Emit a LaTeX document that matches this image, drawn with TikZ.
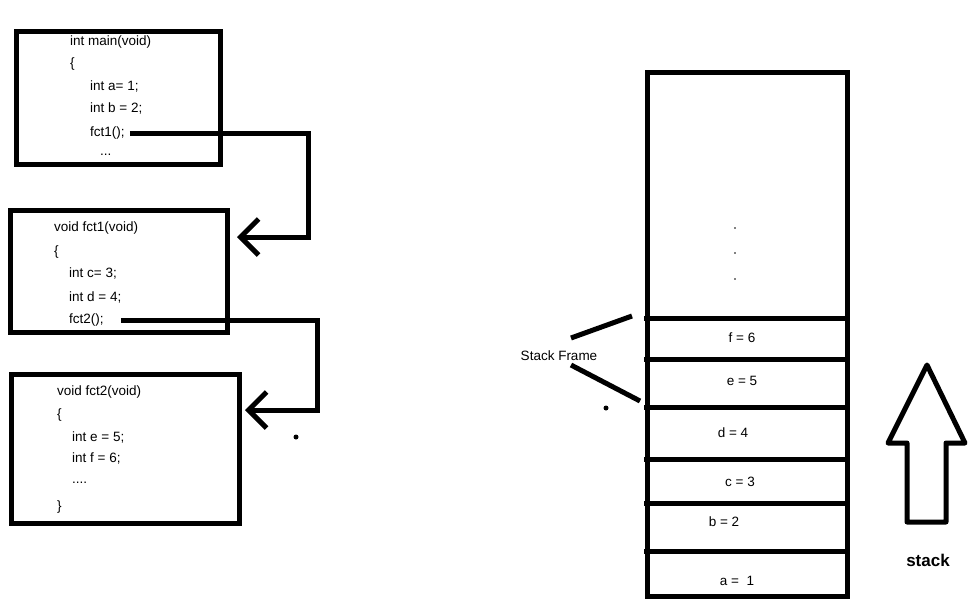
\documentclass[tikz,border=0pt]{standalone}
\usepackage{fontspec}
\setmainfont{Liberation Sans}
\usetikzlibrary{arrows.meta}
\tikzset{
	frame/.style={draw,line width=5pt,inner sep=0pt,outer sep=0pt,anchor=north west},
	code/.style={anchor=west,inner sep=0pt,font=\fontsize{13.5}{15}\selectfont},
	val/.style={inner sep=0pt,font=\fontsize{13.5}{15}\selectfont},
	bold line/.style={line width=5pt},
	call/.style={line width=5pt,-{Straight Barb[length=18pt,width=36pt]}},
}
\begin{document}
\begin{tikzpicture}[x=1pt,y=-1pt]
	\useasboundingbox (0,0) rectangle (971,611);
	% the three functions
	\node[frame,minimum width=204pt,minimum height=133pt] (mainbox) at (16,31) {};
	\node[frame,minimum width=217pt,minimum height=122pt] (fctbox1) at (10,210) {};
	\node[frame,minimum width=228pt,minimum height=149pt] (fctbox2) at (11,374) {};
	
	\node[code] at (70,42.5) {int main(void)};
	\node[code] at (70,64) {\{};
	\node[code] at (90,86) {int a= 1;};
	\node[code] at (90,108) {int b = 2;};
	\node[code] (call1) at (90,133) {fct1();};
	\node[code] at (100,155) {...};
	
	\node[code] at (54,228) {void fct1(void)};
	\node[code] at (54,252) {\{};
	\node[code] at (69,273) {int c= 3;};
	\node[code] at (69,297) {int d = 4;};
	\node[code] (call2) at (69,320) {fct2();};
	
	\node[code] at (57,392) {void fct2(void)};
	\node[code] at (57,415) {\{};
	\node[code] at (72,437) {int e = 5;};
	\node[code] at (72,458) {int f = 6;};
	\node[code] at (72,483) {....};
	\node[code] at (57,507) {\}};
	
	% calls
	\coordinate (turn1) at (308,237);
	\coordinate (in1) at (237,237);
	\draw[call] ([xshift=5pt]call1.east) -| (turn1) -- (in1);
	\coordinate (turn2) at (317,410);
	\coordinate (in2) at (245,410);
	\draw[call] ([xshift=17pt]call2.east) -| (turn2) -- (in2);
	\fill (296,437) circle (2.5pt);
	
	% stack
	\node[frame,minimum width=200pt,minimum height=524pt] (stack) at (647,72) {};
	\foreach \y in {318,359,407,459,503,551}
		\draw[bold line] (644,\y) -- (848,\y);
	\foreach \y in {228,253,279}
		\fill (735,\y) circle (0.9pt);
	\node[val] (vf) at (742,338) {f = 6};
	\node[val] (ve) at (742,381) {e = 5};
	\node[val] (vd) at (733,433) {d = 4};
	\node[val] (vc) at (740,482) {c = 3};
	\node[val] (vb) at (724,522) {b = 2};
	\node[val] (va) at (737,581) {a = \ 1};
	
	% stack frame
	\node[val] (sframe) at (559,356) {Stack Frame};
	\coordinate (sfa) at (571,338);
	\coordinate (sfb) at (632,316);
	\coordinate (sfc) at (571,365);
	\coordinate (sfd) at (640,401);
	\draw[bold line] (sfa) -- (sfb);
	\draw[bold line] (sfc) -- (sfd);
	\fill (606,408) circle (2.5pt);
	
	% growth arrow
	\draw[bold line,line join=round] (927,365) -- (965,443) -- (946,443) -- (946,522)
		-- (907,522) -- (907,443) -- (888,443) -- cycle;
	\node[font=\bfseries\fontsize{17}{20}\selectfont] (stacklbl) at (928,560) {stack};
\end{tikzpicture}
\end{document}
